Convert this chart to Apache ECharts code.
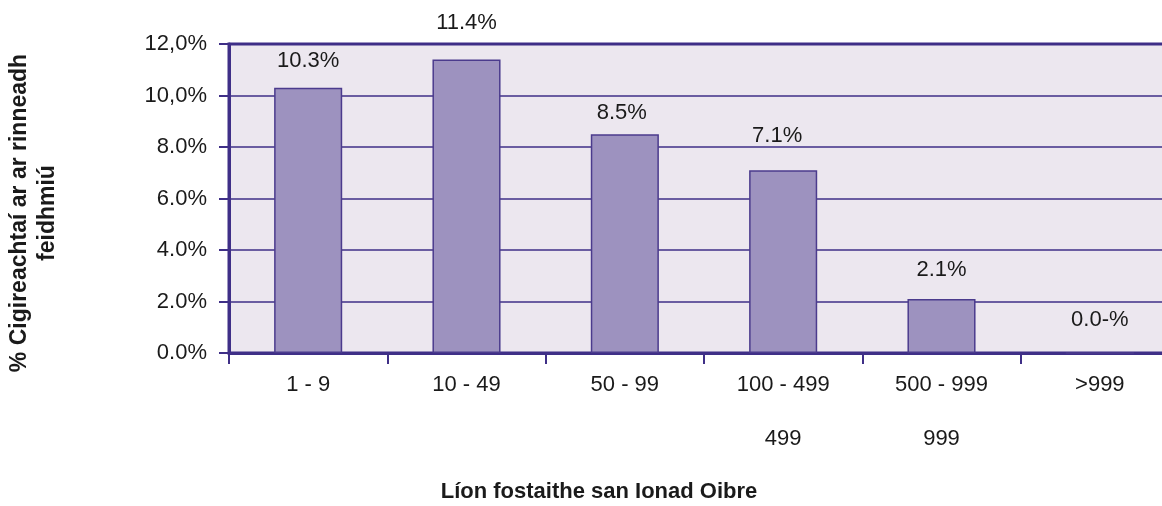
<!DOCTYPE html>
<html>
<head>
<meta charset="utf-8">
<script src="https://cdn.jsdelivr.net/npm/echarts@6/dist/echarts.min.js"></script>
<style>
html,body{margin:0;padding:0;background:#fff;overflow:hidden;}
#chart{width:1180px;height:506px;}
</style>
</head>
<body>
<div id="chart"></div>
<script>
const categories = ['1 - 9', '10 - 49', '50 - 99', '100 - 499\n499', '500 - 999\n999', '>999'];
const values = [10.3, 11.4, 8.5, 7.1, 2.1, 0.0];
const valueLabels = ['10.3%', '11.4%', '8.5%', '7.1%', '2.1%', '0.0-%'];
const yTickLabels = ['0.0%', '2.0%', '4.0%', '6.0%', '8.0%', '10,0%', '12,0%'];
const yTitleLines = ['% Cigireachtaí ar ar rinneadh', 'feidhmiú'];
const xTitle = 'Líon fostaithe san Ionad Oibre';
// label placement style (distance above bar top, horizontal shift)
const labelGap = [16, 26, 10, 23, 18, 21];
const labelShift = [0, 0, -3, -6, 0, 0];

const FONT = '"Liberation Sans", Arial, sans-serif';
const purple = '#3f2f87';

const chart = echarts.init(document.getElementById('chart'), null, {renderer: 'canvas'});
chart.setOption({
  animation: false,
  backgroundColor: '#ffffff',
  grid: {
    left: 229, top: 44, width: 950, height: 309,
    show: true, backgroundColor: '#ece7ef', borderColor: purple, borderWidth: 3
  },
  xAxis: {
    type: 'category',
    data: categories,
    boundaryGap: true,
    axisLine: {show: true, lineStyle: {color: purple, width: 3}},
    axisTick: {show: true, length: 11, alignWithLabel: false, lineStyle: {color: purple, width: 2}},
    axisLabel: {
      color: '#1a1a1a', fontFamily: FONT, fontSize: 22, lineHeight: 54, margin: 5,
      interval: 0
    },
    splitLine: {show: false}
  },
  yAxis: {
    type: 'value',
    min: 0, max: 12, interval: 2,
    axisLine: {show: true, lineStyle: {color: purple, width: 3}},
    axisTick: {show: true, length: 10, lineStyle: {color: purple, width: 2}},
    axisLabel: {
      color: '#1a1a1a', fontFamily: FONT, fontSize: 22, margin: 22,
      formatter: function (v) { return yTickLabels[Math.round(v / 2)]; }
    },
    splitLine: {show: true, lineStyle: {color: purple, width: 1.5}}
  },
  series: [{
    type: 'bar',
    barWidth: '43%',
    data: values.map(function (v, i) {
      return {
        value: v,
        label: {distance: labelGap[i], offset: [labelShift[i], 0]}
      };
    }),
    itemStyle: {color: '#9d92bf', borderColor: '#4b3b8d', borderWidth: 1.5},
    label: {
      show: true, position: 'top', color: '#1a1a1a', fontFamily: FONT, fontSize: 22,
      formatter: function (p) { return valueLabels[p.dataIndex]; }
    }
  }],
  graphic: [
    {
      type: 'text',
      x: 34, y: 213,
      rotation: Math.PI / 2,
      style: {
        text: yTitleLines.join('\n'), font: 'bold 23px ' + FONT, fill: '#1a1a1a',
        align: 'center', verticalAlign: 'middle', lineHeight: 28
      }
    },
    {
      type: 'text', x: 599, y: 492,
      style: {text: xTitle, font: 'bold 22px ' + FONT, fill: '#1a1a1a',
        align: 'center', verticalAlign: 'middle'}
    }
  ]
});
</script>
</body>
</html>
